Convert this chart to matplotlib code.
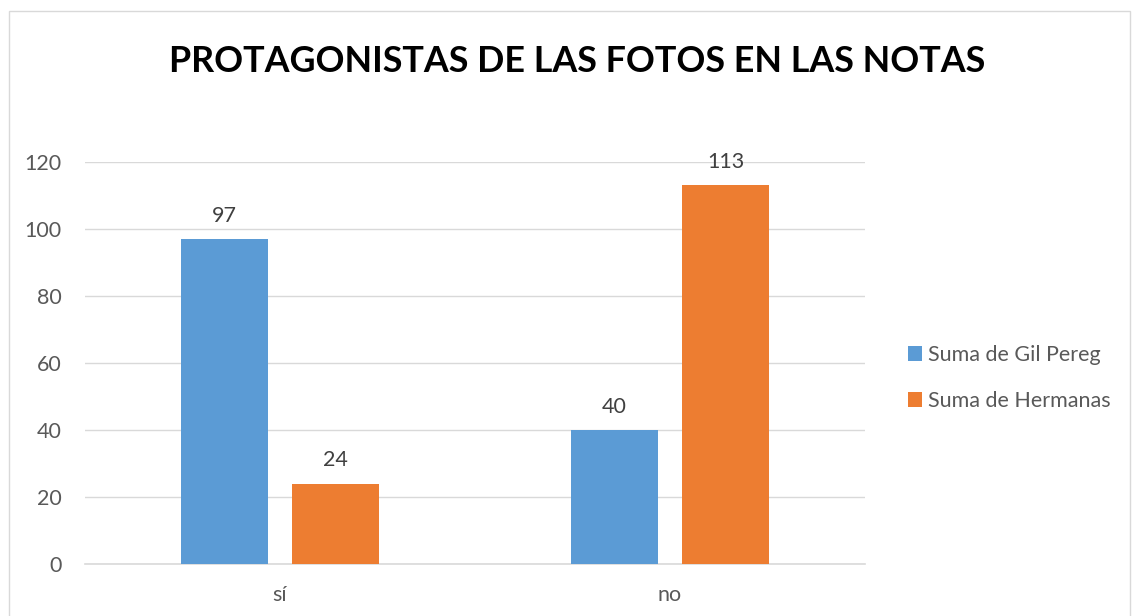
import matplotlib.pyplot as plt
import numpy as np
from matplotlib.patches import Rectangle

# datos
categorias = ['sí', 'no']
gil_pereg = [97, 40]
hermanas = [24, 113]
series = ['Suma de Gil Pereg', 'Suma de Hermanas']

plt.rcParams['font.family'] = ['Lato', 'DejaVu Sans']

fig = plt.figure(figsize=(11.33, 6.16), dpi=100)
ax = fig.add_axes([85/1133, 1 - 564/616, 780/1133, 402/616])

x = np.arange(len(categorias))
w = 0.223
off = 0.143
b1 = ax.bar(x - off, gil_pereg, w, color='#5B9BD5', label=series[0], zorder=3)
b2 = ax.bar(x + off, hermanas, w, color='#ED7D31', label=series[1], zorder=3)

for bars in (b1, b2):
    for r in bars:
        ax.text(r.get_x() + r.get_width() / 2, r.get_height() + 4, str(int(r.get_height())),
                ha='center', va='bottom', fontsize=15.5, color='#404040')

ax.set_xlim(-0.5, 1.5)
ax.set_ylim(0, 120)
ax.set_yticks(range(0, 121, 20))
ax.set_xticks(x)
ax.set_xticklabels(categorias)
ax.yaxis.grid(True, color='#D9D9D9', linewidth=1, zorder=0)
for s in ['top', 'right', 'left']:
    ax.spines[s].set_visible(False)
ax.spines['bottom'].set_color('#D9D9D9')
ax.spines['bottom'].set_linewidth(1.2)
ax.tick_params(axis='both', length=0, labelsize=15.5, colors='#595959')
ax.tick_params(axis='y', pad=17)
ax.tick_params(axis='x', pad=15)

fig.text(577/1133, 1 - 62/616, 'PROTAGONISTAS DE LAS FOTOS EN LAS NOTAS',
         ha='center', va='center', fontsize=25.8, fontweight='bold', color='black')

leg = ax.legend(loc='center left', bbox_to_anchor=(889/1133, 1 - 378/616),
                bbox_transform=fig.transFigure, frameon=False, fontsize=15.5,
                handlelength=0.65, handleheight=0.65, handletextpad=0.25, labelspacing=1.2)
for t in leg.get_texts():
    t.set_color('#595959')

fig.patches.append(Rectangle((9/1133, -0.01), 1121/1133, 1 - 11/616 + 0.01,
                             transform=fig.transFigure, fill=False,
                             edgecolor='#D9D9D9', linewidth=1))

plt.savefig('out.png', dpi=100)
